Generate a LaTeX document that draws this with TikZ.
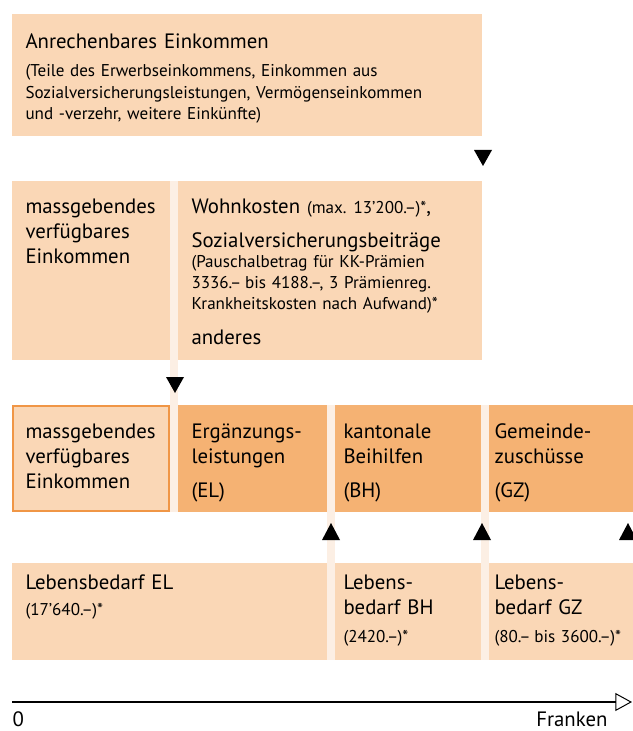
\documentclass[tikz,border=0pt]{standalone}
\usepackage{fontspec}
\setmainfont{PT Sans}
\usetikzlibrary{arrows.meta}
\definecolor{peach}{RGB}{250,215,182}
\definecolor{apricot}{RGB}{245,178,115}
\definecolor{pale}{RGB}{252,239,228}
\definecolor{rim}{RGB}{240,150,70}
\newcommand{\bigtxt}{\fontsize{15.6}{18.75}\selectfont}
\newcommand{\smalltxt}{\fontsize{12.8}{16.1}\selectfont}
\newcommand{\dashsp}{\kern-1.5pt\ }
\tikzset{every picture/.style={line width=0.75pt}}
\tikzset{
  txt/.style={anchor=base west,inner sep=0pt,text width=360pt,align=left,font=\bigtxt},
  smalltext/.style={txt,font=\smalltxt},
  marker/.style={fill=black}
}

\begin{document}
\begin{tikzpicture}[x=0.75pt,y=0.75pt,yscale=-1,xscale=1]
        \useasboundingbox (0,0) rectangle (632,731);

        %Shape: Rectangle [row 1]
        \fill [peach] (12,14) rectangle (482,136) ;
        %Shape: Rectangle [row 2]
        \fill [peach] (12,181) rectangle (170,360) ;
        \fill [peach] (178,181) rectangle (482,360) ;
        %Shape: Strips
        \fill [pale] (170,181) rectangle (178,512) ;
        \fill [pale] (327,405) rectangle (335,660) ;
        \fill [pale] (481,405) rectangle (489,660) ;
        %Shape: Rectangle [row 3]
        \draw [rim,fill=peach,line width=1.5] (12.75,405.75) rectangle (169.25,511.25) ;
        \fill [apricot] (178,405) rectangle (327,512) ;
        \fill [apricot] (335,405) rectangle (481,512) ;
        \fill [apricot] (489,405) rectangle (640,512) ;
        %Shape: Rectangle [row 4]
        \fill [peach] (12,563) rectangle (327,660) ;
        \fill [peach] (335,563) rectangle (481,660) ;
        \fill [peach] (489,563) rectangle (640,660) ;

        %Shape: Triangles
        \fill [marker] (474,150) -- (492,150) -- (483,166) -- cycle ;
        \fill [marker] (166,377) -- (184,377) -- (175,393) -- cycle ;
        \fill [marker] (322,540) -- (340,540) -- (331,523) -- cycle ;
        \fill [marker] (473,540) -- (491,540) -- (482,523) -- cycle ;
        \fill [marker] (619,540) -- (637,540) -- (628,523) -- cycle ;

        %Straight Lines [axis]
        \coordinate (zero) at (12,702) ;
        \coordinate (far) at (632,702) ;
        \draw [line width=1.5,-{Triangle[open,length=12.5pt,width=13.5pt,line width=0.75pt]}] (zero) -- (far) ;

        % Text Node
        \draw (25,49) node [txt] (anr) {Anrechenbares Einkommen};
        % Text Node
        \draw (25,77) node [smalltext] (teile) {(Teile des Erwerbseinkommens, Einkommen aus\\Sozialversicherungsleistungen, Vermögenseinkommen\\und -verzehr, weitere Einkünfte)};
        % Text Node
        \draw (25,213) node [txt] (mve) {massgebendes\\verfügbares\\Einkommen};
        % Text Node
        \draw (191,213) node [txt] (wohn) {Wohnkosten {\smalltxt (max.\ 13’200.–)*},};
        % Text Node
        \draw (191,247) node [txt] (sozial) {Sozialversicherungsbeiträge};
        % Text Node
        \draw (191,267) node [smalltext] (pausch) {(Pauschalbetrag für KK-Prämien\\3336.–\dashsp bis 4188.–, 3 Prämienreg.\\Krankheitskosten nach Aufwand)*};
        % Text Node
        \draw (191,344) node [txt] (anderes) {anderes};
        % Text Node
        \draw (25,438) node [txt] (mve2) {massgebendes\\verfügbares\\Einkommen};
        % Text Node
        \draw (191,438) node [txt] (el) {Ergänzungs-\\leistungen\\[7pt](EL)};
        % Text Node
        \draw (343,438) node [txt] (bh) {kantonale\\Beihilfen\\[7pt](BH)};
        % Text Node
        \draw (494,438) node [txt] (gz) {Gemeinde-\\zuschüsse\\[7pt](GZ)};
        % Text Node
        \draw (25,589) node [txt] (lbel) {Lebensbedarf EL};
        \draw (25,615) node [smalltext] (lbelval) {(17’640.–)*};
        % Text Node
        \draw (343,589) node [txt] (lbbh) {Lebens-\\bedarf BH};
        \draw (343,642) node [smalltext] (lbbhval) {(2420.–)*};
        % Text Node
        \draw (494,589) node [txt] (lbgz) {Lebens-\\bedarf GZ};
        \draw (494,642) node [smalltext] (lbgzval) {(80.–\dashsp bis 3600.–)*};
        % Text Node
        \draw (12,726) node [txt] (null) {0};
        % Text Node
        \draw (608,726) node [txt,anchor=base east,text width=] (franken) {Franken};

\end{tikzpicture}
\end{document}
